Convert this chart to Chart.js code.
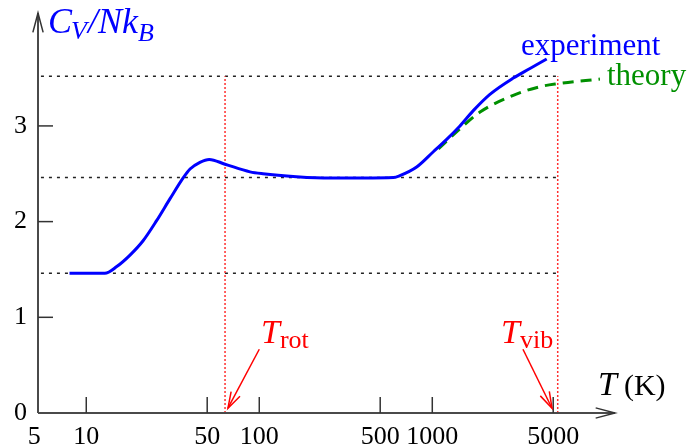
<!DOCTYPE html>
<html><head><meta charset="utf-8">
<script src="https://cdn.jsdelivr.net/npm/chart.js@4/dist/chart.umd.min.js"></script>
<style>html,body{margin:0;padding:0;background:#fff;overflow:hidden}</style>
</head><body>
<canvas id="c" width="689" height="448"></canvas>
<script>
// ---- data ----
const expT = [8.0, 12.8, 15.0, 17.9, 21.3, 25.5, 30.5, 36.4, 39.8, 45.4, 51.4, 63.4, 88.4, 105, 164, 256, 399, 596, 650, 812, 1014, 1211, 1445, 1726, 2153, 2938, 3670, 4585];
const expC = [1.46, 1.46, 1.53, 1.65, 1.80, 2.01, 2.24, 2.46, 2.55, 2.62, 2.65, 2.60, 2.52, 2.50, 2.47, 2.455, 2.455, 2.46, 2.48, 2.57, 2.73, 2.86, 3.00, 3.16, 3.33, 3.50, 3.60, 3.70];
const theoryT = [1085, 1445, 1888, 2938, 4198, 5237, 9310];
const theoryC = [2.76, 2.97, 3.145, 3.32, 3.41, 3.44, 3.49];
const xTickValues = [5, 10, 50, 100, 500, 1000, 5000];
const yTickValues = [0, 1, 2, 3];
const refLevels = [1.46, 2.46, 3.52];
const refStartT = 5.47;
const tRot = 63.4;
const tVib = 5309;
const arrowFromT = [100, 3343];
const arrowToT = [65.9, 4920];
const arrowFromC = [0.666, 0.666];
const arrowToC = [0.05, 0.05];
const xMin = 5.26, xMax = 11380, yMin = 0, yMax = 4.18;

const SERIF = '"Liberation Serif", "Times New Roman", serif';
const BLUE = '#0000ff', GREEN = '#009000', RED = '#ff0000';

const pts = (xs, ys) => xs.map((x, i) => ({x: x, y: ys[i]}));

const datasets = [
  {data: pts(expT, expC), borderColor: BLUE, borderWidth: 3, pointRadius: 0, fill: false, cubicInterpolationMode: 'monotone', order: 0},
  {data: pts(theoryT, theoryC), borderColor: GREEN, borderWidth: 3, borderDash: [11, 7], pointRadius: 0, fill: false, cubicInterpolationMode: 'monotone', order: 1}
];
refLevels.forEach(v => datasets.push({data: [{x: refStartT, y: v}, {x: tVib, y: v}], borderColor: '#222', borderWidth: 1.5, borderDash: [3, 5], pointRadius: 0, order: 3}));
[tRot, tVib].forEach(t => datasets.push({data: [{x: t, y: 0}, {x: t, y: refLevels[2]}], borderColor: '#ff3030', borderWidth: 1.5, borderDash: [2, 2], pointRadius: 0, order: 2}));

function chevron(ctx, tx, ty, fx, fy, len, ang) {
  const a = Math.atan2(ty - fy, tx - fx);
  ctx.beginPath();
  ctx.moveTo(tx - len * Math.cos(a - ang), ty - len * Math.sin(a - ang));
  ctx.lineTo(tx, ty);
  ctx.lineTo(tx - len * Math.cos(a + ang), ty - len * Math.sin(a + ang));
  ctx.stroke();
}
function txt(ctx, s, x, y, font, color) {
  ctx.font = font; ctx.fillStyle = color; ctx.textBaseline = 'alphabetic'; ctx.textAlign = 'left';
  ctx.fillText(s, x, y);
  return x + ctx.measureText(s).width;
}

const decor = {
  id: 'decor',
  afterDraw(chart) {
    const ctx = chart.ctx, xs = chart.scales.x, ys = chart.scales.y, ca = chart.chartArea;
    ctx.save();
    // axes
    ctx.strokeStyle = '#4a4a4a'; ctx.lineWidth = 2; ctx.lineCap = 'butt';
    ctx.beginPath(); ctx.moveTo(ca.left, ca.bottom); ctx.lineTo(ca.left, ca.top); ctx.stroke();
    ctx.beginPath(); ctx.moveTo(ca.left, ca.bottom); ctx.lineTo(ca.right, ca.bottom); ctx.stroke();
    ctx.lineWidth = 1.5; ctx.strokeStyle = '#333';
    chevron(ctx, ca.left, ca.top, ca.left, ca.top + 10, 20, 0.26);
    chevron(ctx, ca.right, ca.bottom, ca.right - 10, ca.bottom, 20, 0.26);
    // inward tick marks
    ctx.strokeStyle = '#333'; ctx.lineWidth = 1.5;
    xTickValues.forEach(v => { if (v <= xMin) return; const p = xs.getPixelForValue(v);
      ctx.beginPath(); ctx.moveTo(p, ca.bottom); ctx.lineTo(p, ca.bottom - 16); ctx.stroke(); });
    yTickValues.forEach(v => { if (v <= yMin) return; const p = ys.getPixelForValue(v);
      ctx.beginPath(); ctx.moveTo(ca.left, p); ctx.lineTo(ca.left + 15, p); ctx.stroke(); });
    // annotation arrows
    ctx.strokeStyle = RED; ctx.lineWidth = 1.5;
    for (let i = 0; i < arrowFromT.length; i++) {
      const fx = xs.getPixelForValue(arrowFromT[i]), fy = ys.getPixelForValue(arrowFromC[i]);
      const tx = xs.getPixelForValue(arrowToT[i]), ty = ys.getPixelForValue(arrowToC[i]);
      ctx.beginPath(); ctx.moveTo(fx, fy); ctx.lineTo(tx, ty); ctx.stroke();
      chevron(ctx, tx, ty, fx, fy, 17, 0.3);
    }
    // texts
    let x = txt(ctx, 'T', 261, 343, 'italic 34px ' + SERIF, RED);
    txt(ctx, 'rot', x, 348, '26px ' + SERIF, RED);
    x = txt(ctx, 'T', 501, 343, 'italic 34px ' + SERIF, RED);
    txt(ctx, 'vib', x, 348, '26px ' + SERIF, RED);
    x = txt(ctx, 'T', 598, 395, 'italic 34px ' + SERIF, '#000');
    txt(ctx, '(K)', x + 7, 395, '30px ' + SERIF, '#000');
    x = txt(ctx, 'C', 48, 33, 'italic 36px ' + SERIF, BLUE);
    x = txt(ctx, 'V', x - 1, 39, 'italic 26px ' + SERIF, BLUE);
    x = txt(ctx, '/Nk', x + 1, 33, 'italic 36px ' + SERIF, BLUE);
    txt(ctx, 'B', x, 41, 'italic 26px ' + SERIF, BLUE);
    txt(ctx, 'experiment', 521, 55, '31px ' + SERIF, BLUE);
    txt(ctx, 'theory', 607, 85, '31px ' + SERIF, GREEN);
    ctx.restore();
  }
};

const tickFont = {family: SERIF, size: 26, lineHeight: 1};
new Chart(document.getElementById('c'), {
  type: 'line',
  data: {datasets: datasets},
  options: {
    responsive: false, animation: false, events: [],
    layout: {padding: {left: 0, right: 74, top: 13, bottom: 0}},
    plugins: {legend: {display: false}, tooltip: {enabled: false}, title: {display: false}},
    scales: {
      x: {type: 'logarithmic', min: xMin, max: xMax,
        grid: {display: false, drawTicks: false}, border: {display: false},
        afterBuildTicks: s => { s.ticks = xTickValues.map(v => ({value: v})); },
        afterFit: s => { s.height = 35; s.paddingLeft = 0; s.paddingRight = 0; },
        ticks: {autoSkip: false, maxRotation: 0, minRotation: 0, padding: 11, font: tickFont, color: '#000', callback: v => String(v)}},
      y: {type: 'linear', min: yMin, max: yMax,
        grid: {display: false, drawTicks: false}, border: {display: false},
        afterBuildTicks: s => { s.ticks = yTickValues.map(v => ({value: v})); },
        afterFit: s => { s.width = 38; s.paddingTop = 0; s.paddingBottom = 0; },
        ticks: {padding: 11, font: tickFont, color: '#000', callback: v => String(v)}}
    }
  },
  plugins: [decor]
});
</script>
</body></html>
